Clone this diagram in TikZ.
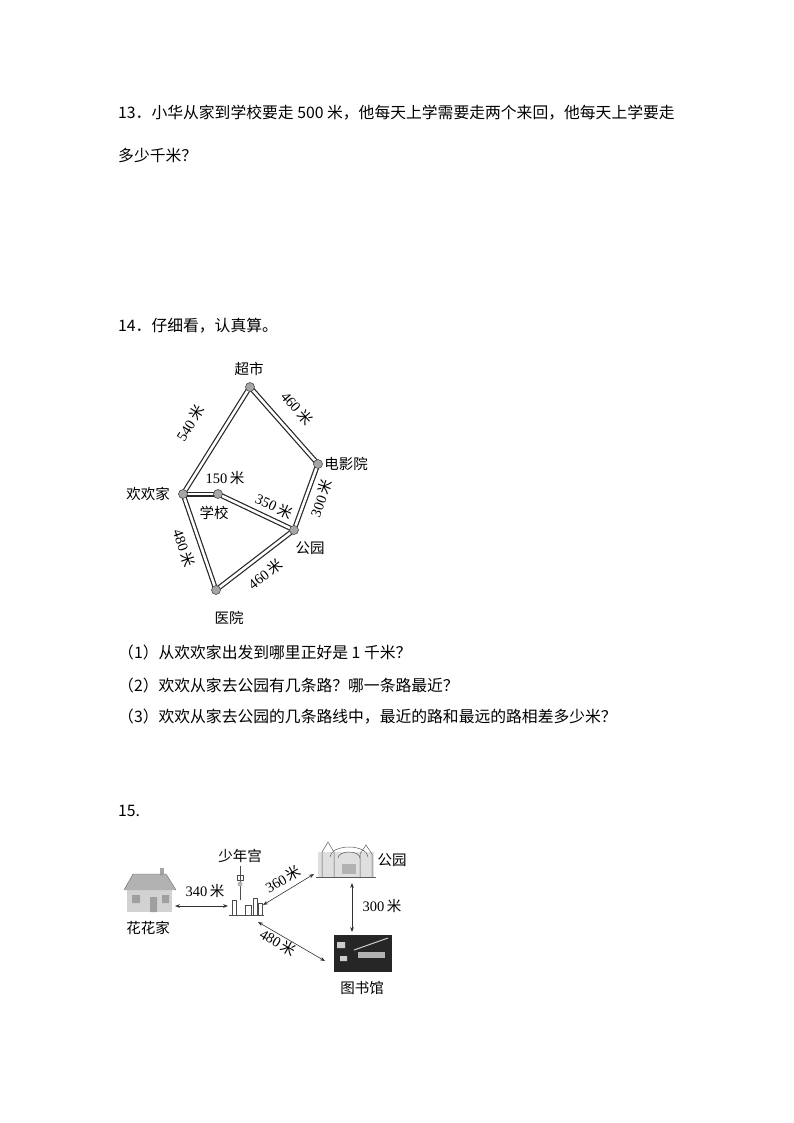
\documentclass[tikz,border=0pt]{standalone}
\usepackage{fontspec}
\setmainfont{Liberation Serif}
\newfontfamily\cjk{Noto Sans CJK SC}
\usetikzlibrary{arrows.meta}
\begin{document}
\begin{tikzpicture}[x=1pt,y=-1pt,
  txt/.style={anchor=west,inner sep=0,font=\fontsize{15.8}{18}\selectfont\cjk},
  lab/.style={inner sep=0pt,font=\fontsize{14.5}{16}\selectfont},
  dot/.style={circle,fill=gray!70,draw=black!70,line width=0.6pt,minimum size=9pt,inner sep=0},
  roadout/.style={line width=5pt,black!85},
  roadin/.style={line width=2.6pt,white},
  arr/.style={{Stealth[length=5pt]}-{Stealth[length=5pt]},line width=0.6pt,black!80}]
\useasboundingbox (0,0) rectangle (794,1123);
\node[txt] (q13a) at (118,113) {13．小华从家到学校要走 500 米，他每天上学需要走两个来回，他每天上学要走};
\node[txt] (q13b) at (118,155) {多少千米？};
\node[txt] (q14) at (118,326) {14．仔细看，认真算。};
% map
\coordinate (cs) at (250,387);
\coordinate (dy) at (318,464);
\coordinate (hh) at (183,494);
\coordinate (xx) at (218,494);
\coordinate (gy) at (294,530);
\coordinate (yy) at (216,590);
\foreach \a/\b in {hh/cs,cs/dy,dy/gy,hh/xx,xx/gy,hh/yy,yy/gy}{\draw[roadout] (\a)--(\b);}
\foreach \a/\b in {hh/cs,cs/dy,dy/gy,hh/xx,xx/gy,hh/yy,yy/gy}{\draw[roadin] (\a)--(\b);}
\foreach \p in {cs,dy,hh,xx,gy,yy}{\node[dot] (n\p) at (\p) {};}
\node[lab] (lcs) at (249,369) {\cjk 超市};
\node[lab] (ldy) at (346,464) {\cjk 电影院};
\node[lab] (lhh) at (148,494) {\cjk 欢欢家};
\node[lab] (lxx) at (214,513) {\cjk 学校};
\node[lab] (lgy) at (310,548) {\cjk 公园};
\node[lab] (lyy) at (229,618) {\cjk 医院};
\node[lab,rotate=58] (d1) at (190,423) {540\,\cjk 米};
\node[lab,rotate=-49] (d2) at (297,408) {460\,\cjk 米};
\node[lab] (d3) at (225,478) {150\,\cjk 米};
\node[lab,rotate=-25] (d4) at (274,506) {350\,\cjk 米};
\node[lab,rotate=70] (d5) at (321,498) {300\,\cjk 米};
\node[lab,rotate=-71] (d6) at (184,548) {480\,\cjk 米};
\node[lab,rotate=38] (d7) at (265,574) {460\,\cjk 米};
\node[txt] (a1) at (118,652) {（1）从欢欢家出发到哪里正好是 1 千米？};
\node[txt] (a2) at (118,685) {（2）欢欢从家去公园有几条路？哪一条路最近？};
\node[txt] (a3) at (118,717) {（3）欢欢从家去公园的几条路线中，最近的路和最远的路相差多少米？};
\node[txt] (q15) at (118,811) {15.};
% house
\fill[gray!35] (127,888) rectangle (172,912);
\fill[gray!60] (124,890) -- (133,874) -- (166,874) -- (176,890) -- cycle;
\fill[gray!70] (160,868) rectangle (164,876);
\draw[gray!80!black,line width=0.4pt] (124,890) -- (133,874) -- (166,874) -- (176,890);
\fill[gray!75] (132,895) rectangle (140,903) (150,897) rectangle (157,912) (162,895) rectangle (169,903);
\node[inner sep=0] (house) at (150,893) {};
\node[lab] (lhouse) at (148,928) {\cjk 花花家};
% tower
\begin{scope}[gray!60!black,line width=0.6pt]
\draw (240,866) -- (240,900);
\draw (237,875) rectangle (243,880);
\fill[gray!60] (240,884) circle (2.5pt);
\draw (232,915) -- (232,900) -- (236,900) -- (236,915);
\draw (245,915) -- (245,905) -- (251,905) -- (251,915);
\draw (253,915) -- (253,898) -- (257,898) -- (257,915);
\draw (258,915) -- (258,903) -- (262,903) -- (262,915);
\draw (229,915) -- (264,915);
\end{scope}
\node[inner sep=0,minimum width=34pt,minimum height=30pt] (tower) at (245,902) {};
\node[lab] (ltower) at (240,856) {\cjk 少年宫};
% park
\begin{scope}[gray!70!black,line width=0.5pt]
\fill[gray!25] (318,852) rectangle (374,877);
\draw (322,877) -- (322,852) -- (328,842) -- (334,852) -- (334,877);
\draw (360,877) -- (360,854) -- (366,845) -- (372,854) -- (372,877);
\draw (330,857) arc (180:0:19pt and 10pt);
\draw (338,858) arc (180:0:11pt and 6pt);
\draw (316,877) -- (376,877);
\fill[gray!60] (342,864) rectangle (356,874);
\end{scope}
\node[inner sep=0,minimum width=58pt,minimum height=40pt] (park) at (346,860) {};
\node[lab] (lpark) at (392,860) {\cjk 公园};
% library
\fill[black!85] (334,935) rectangle (392,972);
\fill[gray!40] (337,942) rectangle (345,948) (340,956) rectangle (347,961);
\draw[gray!40,line width=1pt] (354,950) -- (388,938);
\fill[gray!60] (358,952) rectangle (385,958);
\node[inner sep=0,minimum width=58pt,minimum height=37pt] (lib) at (363,953) {};
\node[lab] (llib) at (362,988) {\cjk 图书馆};
% arrows
\draw[arr] (175,906) -- (228,906);
\node[lab] (e1) at (205,891) {340\,\cjk 米};
\draw[arr] (263,905) -- (314,874);
\node[lab,rotate=30] (e2) at (283,879) {360\,\cjk 米};
\draw[arr] (352,883) -- (352,932);
\node[lab] (e3) at (382,906) {300\,\cjk 米};
\draw[arr] (258,922) -- (325,961);
\node[lab,rotate=-30] (e4) at (278,942) {480\,\cjk 米};
\end{tikzpicture}
\end{document}
